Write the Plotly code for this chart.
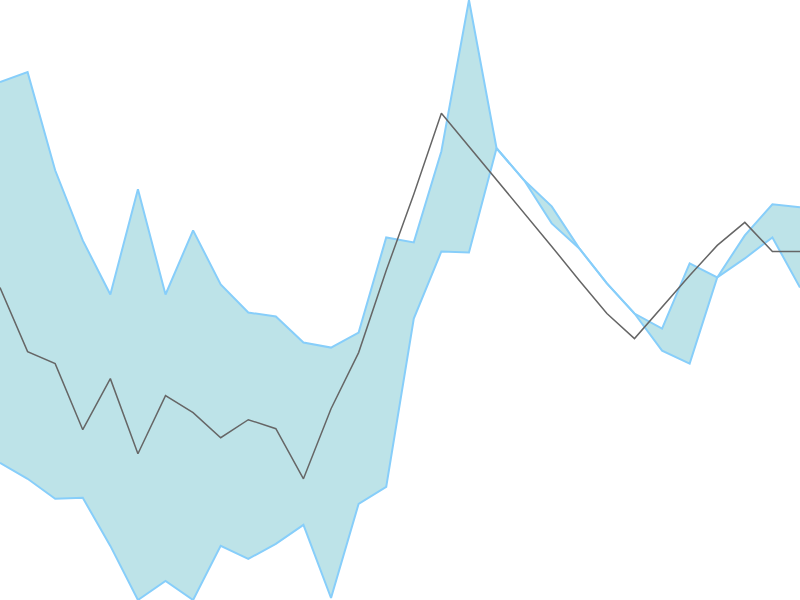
import plotly.graph_objects as go

# values (arbitrary units, higher = up)
days = list(range(30))

upper = [518, 528, 430, 360, 306, 411, 306, 370, 316, 288,
         284, 258, 253, 268, 363, 358, 449, 600, 452, 420,
         394, 352, 317, 287, 272, 337, 323, 365, 396, 393]

lower = [138, 122, 102, 103, 55, 1, 20, 1, 55, 42,
         57, 76, 3, 97, 114, 282, 349, 348, 452, 420,
         377, 352, 317, 287, 250, 237, 323, 342, 363, 313]

mean = [313, 249, 237, 171, 222, 147, 205, 188, 163, 181,
        172, 122, 192, 248, 330, 406, 487, 454, 420, 387,
        354, 320, 287, 262, 294, 325, 355, 378, 349, 349]

band_line = "#87cefa"
band_fill = "#bde3e8"

fig = go.Figure()
fig.add_trace(go.Scatter(x=days, y=lower, mode="lines",
                         line=dict(color=band_line, width=2),
                         hoverinfo="skip", showlegend=False))
fig.add_trace(go.Scatter(x=days, y=upper, mode="lines", fill="tonexty",
                         fillcolor=band_fill,
                         line=dict(color=band_line, width=2),
                         hoverinfo="skip", showlegend=False))
fig.add_trace(go.Scatter(x=days, y=mean, mode="lines",
                         line=dict(color="#666666", width=1.5),
                         showlegend=False))

fig.update_layout(
    width=800, height=600,
    margin=dict(l=0, r=0, t=0, b=0),
    paper_bgcolor="white", plot_bgcolor="white",
    xaxis=dict(visible=False, range=[days[0], days[-1]]),
    yaxis=dict(visible=False, range=[min(lower), max(upper)]),
)

# drop the browser's default body margin so the chart sits flush
fig.write_html("out.html", config={"displayModeBar": False},
               post_script="document.body.style.margin='0';")
